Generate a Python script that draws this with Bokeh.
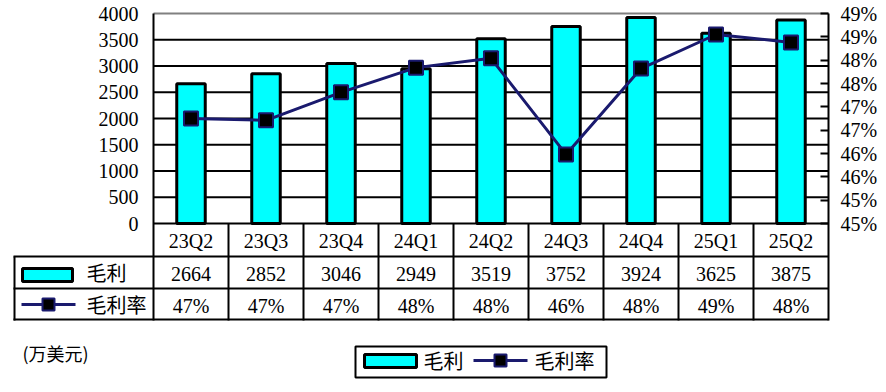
from bokeh.plotting import figure
from bokeh.models import Range1d, LinearAxis, FixedTicker, CustomJSTickFormatter
from bokeh.core.properties import value
from bokeh.embed import file_html
from bokeh.resources import INLINE

# ---------------- data ----------------
quarters = ["23Q2", "23Q3", "23Q4", "24Q1", "24Q2", "24Q3", "24Q4", "25Q1", "25Q2"]
gross_profit = [2664, 2852, 3046, 2949, 3519, 3752, 3924, 3625, 3875]          # 毛利 (万美元)
gross_margin = [46.75, 46.71, 47.31, 47.84, 48.04, 45.98, 47.82, 48.55, 48.38]  # 毛利率 (%)
left_ticks = [0, 500, 1000, 1500, 2000, 2500, 3000, 3500, 4000]
right_ticks = [44.5, 45.0, 45.5, 46.0, 46.5, 47.0, 47.5, 48.0, 48.5, 49.0]
right_tick_labels = ["45%", "45%", "46%", "46%", "47%", "47%", "48%", "48%", "49%", "49%"]
margin_labels = [f"{round(v)}%" for v in gross_margin]
series_names = ["毛利", "毛利率"]
unit_label = "(万美元)"

# ---------------- style / layout ----------------
CYAN = "#00FFFF"
NAVY = "#1a1a6e"
SERIF_NAME = "'Liberation Serif'"
SERIF = value(SERIF_NAME)
CJK = value("Noto Sans CJK SC")
FS = "20px"
W, H = 884, 390
FX0, FX1 = 153, 828        # chart plot area x (px)
ZERO_PX, TOP_PX = 223, 13  # y of 0 and of the top tick (px)
n = len(quarters)
col_w = (FX1 - FX0) / n
per_px = (left_ticks[-1] - left_ticks[0]) / (ZERO_PX - TOP_PX)
pct_per_px = (right_ticks[-1] - right_ticks[0]) / (ZERO_PX - TOP_PX)


def X(px):
    return (px - FX0) / col_w


def Y(py):
    return (ZERO_PX - py) * per_px


def P(py):
    return right_ticks[0] + (ZERO_PX - py) * pct_per_px


xs = [i + 0.5 for i in range(n)]

p = figure(width=W, height=H,
           x_range=Range1d(X(0), X(W)), y_range=Range1d(Y(H), Y(0)),
           output_backend="svg", toolbar_location=None,
           min_border_left=0, min_border_right=0, min_border_top=0, min_border_bottom=0,
           x_axis_location=None, y_axis_location="left")
p.title = None
p.outline_line_color = None
p.grid.visible = False
p.background_fill_color = "white"
p.border_fill_color = "white"
p.extra_y_ranges = {"pct": Range1d(P(H), P(0))}

# left axis (drawn at the left edge of the plot area)
ya = p.yaxis[0]
ya.fixed_location = 0
ya.ticker = FixedTicker(ticks=left_ticks)
ya.axis_line_color = None
ya.major_tick_in = 0
ya.major_tick_out = 0
ya.minor_tick_in = 0
ya.minor_tick_out = 0
ya.major_label_standoff = 15
ya.major_label_text_font = SERIF_NAME
ya.major_label_text_font_size = FS
ya.major_label_text_color = "black"

# right axis
ra = LinearAxis(y_range_name="pct", ticker=FixedTicker(ticks=right_ticks),
                formatter=CustomJSTickFormatter(
                    args=dict(tvals=right_ticks, tlabels=right_tick_labels),
                    code="const i = tvals.findIndex(t => Math.abs(t - tick) < 1e-9); return i >= 0 ? tlabels[i] : '';"))
ra.fixed_location = n
ra.axis_line_color = None
ra.major_tick_in = 8
ra.major_tick_out = 0
ra.major_tick_line_width = 2
ra.minor_tick_in = 0
ra.minor_tick_out = 0
ra.major_label_standoff = 12
ra.major_label_text_font = SERIF_NAME
ra.major_label_text_font_size = FS
ra.major_label_text_color = "black"
p.add_layout(ra, "right")

# horizontal grid lines (black) and top line (gray)
grid_vals = left_ticks[:-1]
p.segment(x0=[0] * len(grid_vals), x1=[n] * len(grid_vals), y0=grid_vals, y1=grid_vals,
          line_color="black", line_width=2)
p.segment(x0=[0], x1=[n], y0=[left_ticks[-1]], y1=[left_ticks[-1]],
          line_color="#808080", line_width=2)

# bars
p.vbar(x=xs, top=gross_profit, bottom=0, width=0.38,
       fill_color=CYAN, line_color="black", line_width=3)

# line + markers
p.line(x=xs, y=gross_margin, y_range_name="pct", line_color=NAVY, line_width=3)
p.scatter(x=xs, y=gross_margin, y_range_name="pct", marker="square", size=14,
          fill_color="black", line_color=NAVY, line_width=2)

# ---------------- data table ----------------
T_L, T_BOT = 13, 319
# outer vertical lines of chart + table
p.segment(x0=[0, n], x1=[0, n], y0=[left_ticks[-1]] * 2, y1=[Y(T_BOT + 1)] * 2,
          line_color="black", line_width=2)
# column separators
seps = list(range(1, n))
p.segment(x0=seps, x1=seps, y0=[0] * len(seps), y1=[Y(T_BOT + 1)] * len(seps),
          line_color="black", line_width=2)
# left border of the series-key column
p.segment(x0=[X(T_L + 1)], x1=[X(T_L + 1)], y0=[Y(256)], y1=[Y(T_BOT + 1)],
          line_color="black", line_width=2)
# row lines
rows_y = [Y(256), Y(288), Y(T_BOT)]
p.segment(x0=[X(T_L)] * 3, x1=[n] * 3, y0=rows_y, y1=rows_y, line_color="black", line_width=2)

# category row
p.text(x=xs, y=[Y(240.5)] * n, text=quarters, text_font=SERIF, text_font_size=FS,
       text_align="center", text_baseline="middle", text_color="black")
# values rows
p.text(x=xs, y=[Y(273)] * n, text=[str(v) for v in gross_profit], text_font=SERIF,
       text_font_size=FS, text_align="center", text_baseline="middle", text_color="black")
p.text(x=xs, y=[Y(305)] * n, text=margin_labels, text_font=SERIF, text_font_size=FS,
       text_align="center", text_baseline="middle", text_color="black")

# series keys in the table
p.quad(left=[X(22)], right=[X(72)], top=[Y(268)], bottom=[Y(281)],
       fill_color=CYAN, line_color="black", line_width=3)
p.line(x=[X(21), X(75)], y=[Y(304), Y(304)], line_color=NAVY, line_width=3)
p.scatter(x=[X(48)], y=[Y(304)], marker="square", size=12, fill_color="black",
          line_color=NAVY, line_width=2)
p.text(x=[X(86), X(86)], y=[Y(272), Y(304)], text=series_names, text_font=CJK,
       text_font_size=FS, text_align="left", text_baseline="middle", text_color="black")

# unit label
p.text(x=[X(22)], y=[Y(352)], text=[unit_label], text_font=CJK, text_font_size="18px",
       text_align="left", text_baseline="middle", text_color="black")

# bottom legend
p.quad(left=[X(355)], right=[X(606)], top=[Y(346)], bottom=[Y(377)],
       fill_color="white", line_color="black", line_width=2)
p.quad(left=[X(364)], right=[X(416)], top=[Y(354)], bottom=[Y(367)],
       fill_color=CYAN, line_color="black", line_width=3)
p.line(x=[X(473), X(527)], y=[Y(360), Y(360)], line_color=NAVY, line_width=3)
p.scatter(x=[X(500)], y=[Y(360)], marker="square", size=12, fill_color="black",
          line_color=NAVY, line_width=2)
p.text(x=[X(423), X(534)], y=[Y(360), Y(360)], text=series_names, text_font=CJK,
       text_font_size=FS, text_align="left", text_baseline="middle", text_color="black")

open("out.html", "w").write(file_html(p, INLINE))
